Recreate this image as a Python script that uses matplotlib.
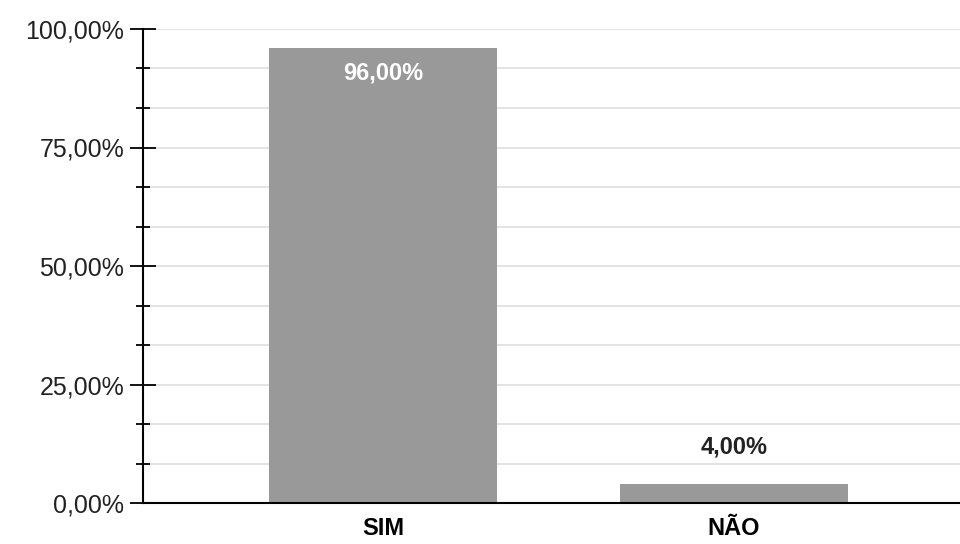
import matplotlib.pyplot as plt
from matplotlib.ticker import MultipleLocator, FuncFormatter

# data
categories = ["SIM", "NÃO"]
values = [96.0, 4.0]

plt.rcParams['font.family'] = ['Liberation Sans', 'DejaVu Sans']

fig = plt.figure(figsize=(9.6, 5.44), dpi=100)
ax = fig.add_axes([143 / 960, 1 - 503 / 544, 1 - 143 / 960, (503 - 29) / 544])

x = list(range(len(categories)))
bars = ax.bar(x, values, width=0.65, color='#999999', zorder=3)

ax.set_xlim(-0.684, 1.644)
ax.set_ylim(0, 100)

# ticks and grid (minor ticks split each 25% step in three)
ax.yaxis.set_major_locator(MultipleLocator(25))
ax.yaxis.set_minor_locator(MultipleLocator(25 / 3))
ax.yaxis.set_major_formatter(FuncFormatter(lambda v, p: f"{v:.2f}".replace('.', ',') + "%"))
ax.grid(axis='y', which='both', color='#e0e0e0', linewidth=1.3, zorder=0)
ax.tick_params(axis='y', which='major', direction='inout', length=19, width=1.3,
               labelsize=18, labelcolor='#222222', pad=4)
ax.tick_params(axis='y', which='minor', direction='inout', length=10, width=1.3)

ax.set_xticks(x)
ax.set_xticklabels(categories, fontsize=17, fontweight='bold')
ax.tick_params(axis='x', length=0, pad=10)

for side in ['top', 'right']:
    ax.spines[side].set_visible(False)
ax.spines['left'].set_linewidth(1.5)
ax.spines['bottom'].set_linewidth(1.5)
ax.spines['left'].set_zorder(4)
ax.spines['bottom'].set_zorder(4)

# value labels
for xi, v in zip(x, values):
    txt = f"{v:.2f}".replace('.', ',') + "%"
    if v > 50:
        ax.annotate(txt, (xi, v), xytext=(0, -18), textcoords='offset points',
                    ha='center', va='center', color='white', fontsize=17,
                    fontweight='bold', zorder=5)
    else:
        ax.annotate(txt, (xi, v), xytext=(0, 27), textcoords='offset points',
                    ha='center', va='center', color='#222222', fontsize=17,
                    fontweight='bold', zorder=5)

fig.savefig("out.png", dpi=100)
